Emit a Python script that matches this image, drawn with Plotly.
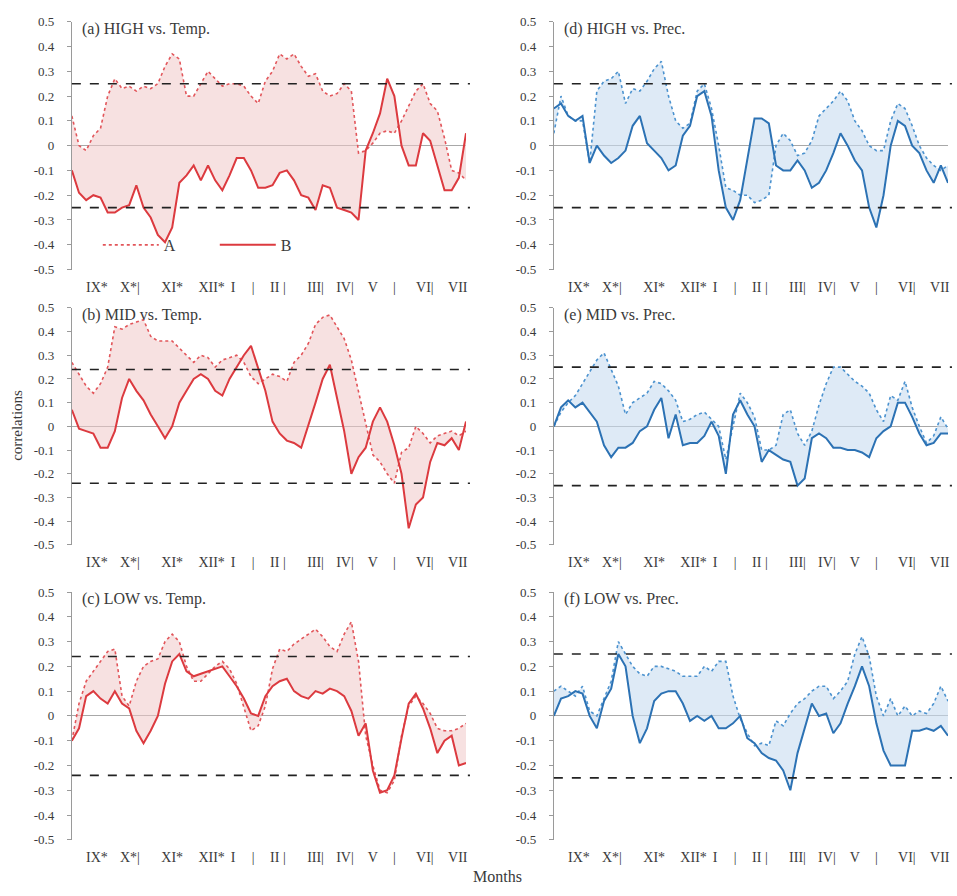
import plotly.graph_objects as go

# Sampling positions along the season, in months counted from early September (IX*)
MONTH_POS = [i / 5 for i in range(56)]

# Month labels under each panel
MONTH_TICK_POS = [0.7, 1.62, 2.8, 3.9, 4.5, 5.06, 5.75, 6.8, 7.62, 8.4, 9.0, 9.85, 10.77]
MONTH_TICK_TEXT = ["IX*", "X*|", "XI*", "XII*", "I", "|", "II |", "III|", "IV|", "V", "|", "VI|", "VII"]

Y_TICKS = [0.5, 0.4, 0.3, 0.2, 0.1, 0.0, -0.1, -0.2, -0.3, -0.4, -0.5]
Y_TICK_TEXT = ["0.5", "0.4", "0.3", "0.2", "0.1", "0", "-0.1", "-0.2", "-0.3", "-0.4", "-0.5"]

# Running correlations, series A (dotted) and B (solid)
high_temp_A = [0.12, 0.0, -0.02, 0.04, 0.07, 0.2, 0.27, 0.23, 0.24, 0.22,
               0.24, 0.23, 0.25, 0.32, 0.37, 0.35, 0.2, 0.2, 0.25, 0.3,
               0.27, 0.24, 0.25, 0.25, 0.24, 0.2, 0.17, 0.26, 0.3, 0.37,
               0.35, 0.37, 0.32, 0.28, 0.29, 0.22, 0.2, 0.21, 0.25, 0.22,
               -0.03, -0.02, 0.01, 0.05, 0.06, 0.05, 0.1, 0.16, 0.22, 0.25,
               0.17, 0.14, 0.03, -0.1, -0.11, -0.14]
high_temp_B = [-0.1, -0.19, -0.22, -0.2, -0.21, -0.27, -0.27, -0.25, -0.24, -0.16,
               -0.25, -0.29, -0.36, -0.39, -0.33, -0.15, -0.12, -0.08, -0.14, -0.08,
               -0.14, -0.18, -0.12, -0.05, -0.05, -0.1, -0.17, -0.17, -0.16, -0.11,
               -0.1, -0.14, -0.2, -0.21, -0.26, -0.16, -0.17, -0.25, -0.26, -0.27,
               -0.3, -0.02, 0.05, 0.13, 0.27, 0.2, 0.0, -0.08, -0.08, 0.05,
               0.02, -0.08, -0.18, -0.18, -0.13, 0.05]

mid_temp_A = [0.27, 0.22, 0.17, 0.14, 0.18, 0.25, 0.42, 0.41, 0.43, 0.44,
              0.45, 0.38, 0.36, 0.36, 0.36, 0.33, 0.3, 0.27, 0.3, 0.29,
              0.25, 0.28, 0.29, 0.3, 0.27, 0.21, 0.18, 0.2, 0.22, 0.21,
              0.19, 0.27, 0.3, 0.35, 0.43, 0.46, 0.47, 0.42, 0.37, 0.28,
              0.15, 0.02, -0.12, -0.15, -0.2, -0.24, -0.11, -0.09, 0.0, -0.03,
              -0.07, -0.04, -0.03, -0.02, -0.04, -0.02]
mid_temp_B = [0.07, -0.01, -0.02, -0.03, -0.09, -0.09, -0.02, 0.12, 0.2, 0.15,
              0.11, 0.05, 0.0, -0.05, 0.0, 0.1, 0.15, 0.2, 0.22, 0.2,
              0.15, 0.13, 0.2, 0.25, 0.3, 0.34, 0.24, 0.15, 0.02, -0.03,
              -0.06, -0.07, -0.09, 0.0, 0.1, 0.2, 0.26, 0.12, -0.02, -0.2,
              -0.13, -0.09, 0.02, 0.08, 0.02, -0.08, -0.2, -0.43, -0.33, -0.3,
              -0.15, -0.07, -0.08, -0.05, -0.1, 0.02]

low_temp_A = [-0.1, 0.05, 0.14, 0.18, 0.22, 0.26, 0.27, 0.08, 0.04, 0.14,
              0.2, 0.22, 0.23, 0.3, 0.33, 0.3, 0.2, 0.14, 0.14, 0.17,
              0.2, 0.22, 0.19, 0.13, 0.04, -0.06, -0.04, 0.04, 0.19, 0.27,
              0.26, 0.29, 0.31, 0.33, 0.35, 0.32, 0.28, 0.26, 0.33, 0.38,
              0.22, -0.08, -0.2, -0.3, -0.31, -0.26, -0.08, 0.04, 0.08, 0.05,
              0.01, -0.05, -0.06, -0.06, -0.05, -0.03]
low_temp_B = [-0.1, -0.05, 0.08, 0.1, 0.07, 0.05, 0.1, 0.05, 0.03, -0.06,
              -0.11, -0.06, 0.0, 0.13, 0.22, 0.25, 0.18, 0.16, 0.17, 0.18,
              0.19, 0.2, 0.16, 0.12, 0.07, 0.01, 0.0, 0.08, 0.12, 0.14,
              0.15, 0.1, 0.08, 0.07, 0.1, 0.09, 0.11, 0.1, 0.08, 0.02,
              -0.08, -0.03, -0.22, -0.31, -0.3, -0.24, -0.09, 0.05, 0.09, 0.03,
              -0.05, -0.15, -0.1, -0.08, -0.2, -0.19]

high_prec_A = [0.05, 0.2, 0.12, 0.1, 0.1, -0.07, 0.22, 0.26, 0.27, 0.3,
               0.17, 0.23, 0.22, 0.26, 0.31, 0.34, 0.2, 0.1, 0.07, 0.09,
               0.22, 0.25, 0.15, 0.0, -0.17, -0.18, -0.2, -0.2, -0.23, -0.22,
               -0.2, 0.0, 0.05, 0.02, -0.04, -0.03, 0.02, 0.12, 0.15, 0.18,
               0.22, 0.18, 0.1, 0.06, 0.0, -0.02, -0.02, 0.1, 0.17, 0.15,
               0.08, 0.0, -0.05, -0.08, -0.1, -0.08]
high_prec_B = [0.15, 0.17, 0.12, 0.1, 0.12, -0.07, 0.0, -0.04, -0.07, -0.05,
               -0.02, 0.08, 0.12, 0.01, -0.02, -0.05, -0.1, -0.08, 0.04, 0.08,
               0.2, 0.22, 0.12, -0.1, -0.25, -0.3, -0.22, -0.05, 0.11, 0.11,
               0.09, -0.08, -0.1, -0.1, -0.06, -0.1, -0.17, -0.15, -0.1, -0.03,
               0.05, 0.0, -0.06, -0.1, -0.25, -0.33, -0.2, 0.0, 0.1, 0.08,
               0.0, -0.03, -0.1, -0.15, -0.08, -0.15]

mid_prec_A = [0.0, 0.06, 0.1, 0.13, 0.18, 0.23, 0.28, 0.31, 0.24, 0.17,
              0.05, 0.1, 0.12, 0.14, 0.19, 0.18, 0.15, 0.11, 0.02, 0.03,
              0.05, 0.06, 0.03, 0.0, -0.14, 0.0, 0.14, 0.1, 0.04, -0.1,
              -0.1, -0.08, 0.05, 0.07, -0.03, -0.08, -0.02, 0.09, 0.18, 0.25,
              0.25, 0.22, 0.19, 0.17, 0.14, 0.07, 0.02, 0.13, 0.11, 0.19,
              0.08, 0.0, -0.07, -0.04, 0.04, -0.01]
mid_prec_B = [0.0, 0.08, 0.11, 0.08, 0.1, 0.06, 0.02, -0.08, -0.13, -0.09,
              -0.09, -0.07, -0.02, 0.0, 0.07, 0.12, -0.05, 0.05, -0.08, -0.07,
              -0.07, -0.04, 0.02, -0.04, -0.2, 0.05, 0.11, 0.05, 0.0, -0.15,
              -0.1, -0.12, -0.14, -0.15, -0.25, -0.22, -0.05, -0.03, -0.05, -0.09,
              -0.09, -0.1, -0.1, -0.11, -0.13, -0.05, -0.02, 0.0, 0.1, 0.1,
              0.04, -0.03, -0.08, -0.07, -0.03, -0.03]

low_prec_A = [0.1, 0.12, 0.1, 0.08, 0.12, 0.02, 0.0, 0.07, 0.14, 0.3,
              0.25, 0.2, 0.17, 0.16, 0.2, 0.2, 0.19, 0.18, 0.16, 0.16,
              0.16, 0.2, 0.18, 0.22, 0.22, 0.08, -0.01, -0.07, -0.12, -0.11,
              -0.12, -0.02, -0.04, 0.01, 0.05, 0.07, 0.1, 0.12, 0.12, 0.07,
              0.1, 0.14, 0.25, 0.32, 0.24, 0.08, 0.0, 0.07, 0.0, 0.04,
              0.0, 0.02, 0.01, 0.05, 0.12, 0.06]
low_prec_B = [0.0, 0.07, 0.08, 0.1, 0.09, 0.0, -0.05, 0.06, 0.11, 0.25,
              0.2, 0.0, -0.11, -0.05, 0.06, 0.09, 0.1, 0.1, 0.05, -0.02,
              0.0, -0.02, 0.0, -0.05, -0.05, -0.03, 0.0, -0.09, -0.11, -0.15,
              -0.17, -0.18, -0.22, -0.3, -0.15, -0.05, 0.05, 0.0, 0.01, -0.07,
              -0.03, 0.05, 0.12, 0.2, 0.12, -0.03, -0.14, -0.2, -0.2, -0.2,
              -0.06, -0.06, -0.05, -0.06, -0.04, -0.08]

# Significance thresholds (dashed lines) per panel
THRESHOLDS = {"a": 0.25, "b": 0.24, "c": 0.24, "d": 0.25, "e": 0.25, "f": 0.25}

RED = dict(solid="#dc3a3f", dotted="#e2555a", fill="rgba(240,200,200,0.55)")
BLUE = dict(solid="#2c72b4", dotted="#4b92cf", fill="rgba(200,220,240,0.6)")

SERIF = "Liberation Serif, Times New Roman, serif"
TEXT = "#3a3a3a"

W, H = 957, 896
COL_X = [(72, 467), (555, 950)]
ROW_Y = [(15, 267), (306, 547), (595, 847)]

panels = [
    ("a", "(a) HIGH vs. Temp.", high_temp_A, high_temp_B, RED, 0, 0),
    ("b", "(b) MID vs. Temp.", mid_temp_A, mid_temp_B, RED, 0, 1),
    ("c", "(c) LOW vs. Temp.", low_temp_A, low_temp_B, RED, 0, 2),
    ("d", "(d) HIGH vs. Prec.", high_prec_A, high_prec_B, BLUE, 1, 0),
    ("e", "(e) MID vs. Prec.", mid_prec_A, mid_prec_B, BLUE, 1, 1),
    ("f", "(f) LOW vs. Prec.", low_prec_A, low_prec_B, BLUE, 1, 2),
]

fig = go.Figure()
layout = dict(
    width=W, height=H,
    margin=dict(l=0, r=0, t=0, b=0),
    paper_bgcolor="white", plot_bgcolor="white",
    font=dict(family=SERIF, color=TEXT),
    showlegend=True,
)
shapes, annotations = [], []

for i, (key, title, a_vals, b_vals, col, cx, ry) in enumerate(panels, start=1):
    xa = "x" if i == 1 else f"x{i}"
    ya = "y" if i == 1 else f"y{i}"
    x0, x1 = COL_X[cx]
    y0, y1 = ROW_Y[ry]
    layout[f"xaxis{'' if i == 1 else i}"] = dict(
        domain=[x0 / W, x1 / W], anchor=ya, range=[0, 11],
        showline=False, showgrid=False, zeroline=False, ticks="",
        tickvals=MONTH_TICK_POS, ticktext=MONTH_TICK_TEXT,
        tickfont=dict(family=SERIF, size=14, color=TEXT),
        ticklabelstandoff=7,
    )
    layout[f"yaxis{'' if i == 1 else i}"] = dict(
        domain=[1 - y1 / H, 1 - y0 / H], anchor=xa, range=[-0.5, 0.5],
        showline=True, linecolor="#9a9a9a", linewidth=1,
        ticks="outside", ticklen=4, tickcolor="#9a9a9a",
        tickvals=Y_TICKS, ticktext=Y_TICK_TEXT,
        tickfont=dict(family=SERIF, size=13, color=TEXT),
        ticklabelstandoff=10,
        showgrid=False, zeroline=True, zerolinecolor="#a8a8a8", zerolinewidth=1,
    )

    # shaded band between the two series
    fig.add_trace(go.Scatter(x=MONTH_POS, y=a_vals, xaxis=xa, yaxis=ya, mode="lines",
                             line=dict(width=0), showlegend=False, hoverinfo="skip"))
    fig.add_trace(go.Scatter(x=MONTH_POS, y=b_vals, xaxis=xa, yaxis=ya, mode="lines",
                             line=dict(width=0), fill="tonexty", fillcolor=col["fill"],
                             showlegend=False, hoverinfo="skip"))
    # the two correlation curves
    fig.add_trace(go.Scatter(x=MONTH_POS, y=a_vals, xaxis=xa, yaxis=ya, mode="lines",
                             name="A", legendgroup="A", showlegend=(i == 1),
                             line=dict(color=col["dotted"], width=1.6, dash="dot")))
    fig.add_trace(go.Scatter(x=MONTH_POS, y=b_vals, xaxis=xa, yaxis=ya, mode="lines",
                             name="B", legendgroup="B", showlegend=(i == 1),
                             line=dict(color=col["solid"], width=2)))

    thr = THRESHOLDS[key]
    for v in (thr, -thr):
        shapes.append(dict(type="line", xref=f"{xa} domain", yref=ya, x0=0, x1=1.01,
                           y0=v, y1=v, line=dict(color="#222222", width=1.6, dash="dash")))

    annotations.append(dict(text=title, xref=f"{xa} domain", yref=f"{ya} domain",
                            x=0.02, y=1.0, xanchor="left", yanchor="middle", yshift=-7,
                            showarrow=False, font=dict(family=SERIF, size=16, color=TEXT)))

annotations.append(dict(text="correlations", xref="paper", yref="paper",
                        x=17 / W, y=1 - 425 / H, xanchor="center", yanchor="middle",
                        textangle=-90, showarrow=False,
                        font=dict(family=SERIF, size=15, color=TEXT)))
annotations.append(dict(text="Months", xref="paper", yref="paper",
                        x=499 / W, y=1 - 884 / H, xanchor="center", yanchor="middle",
                        showarrow=False,
                        font=dict(family=SERIF, size=16, color=TEXT)))

layout["shapes"] = shapes
layout["annotations"] = annotations
layout["legend"] = dict(orientation="h", x=98 / W, y=1 - 242 / H, xanchor="left",
                        yanchor="middle", bgcolor="rgba(0,0,0,0)",
                        font=dict(family=SERIF, size=16, color=TEXT),
                        itemwidth=56, entrywidth=46, entrywidthmode="pixels",
                        tracegroupgap=0)
fig.update_layout(**layout)

fig.write_html("out.html")
